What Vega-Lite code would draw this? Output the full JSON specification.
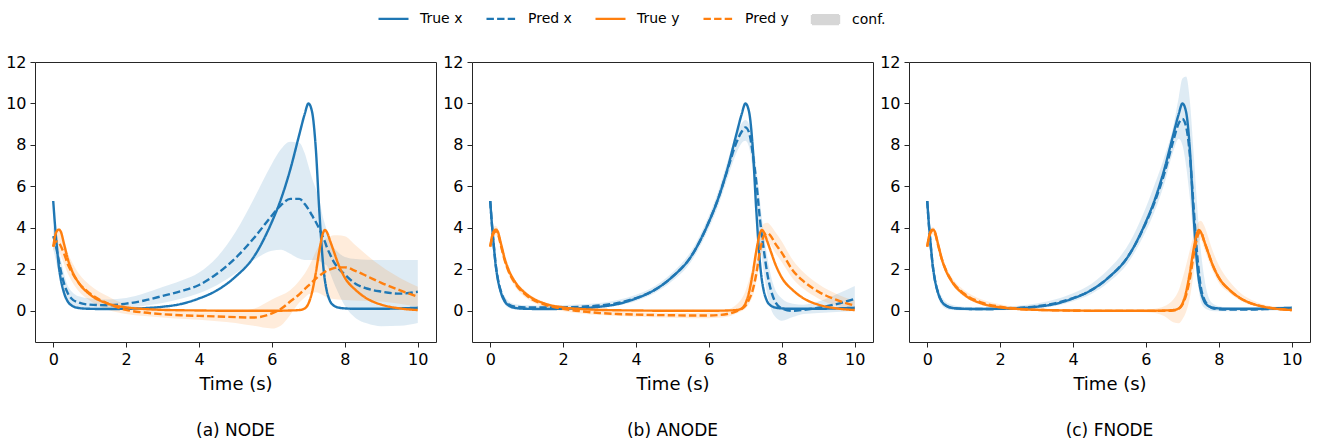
{
"$schema": "https://vega.github.io/schema/vega-lite/v6.json",
"padding": {"left": 5, "top": 2, "right": 5, "bottom": 5},
"config": {
 "font": "DejaVu Sans",
 "view": {"stroke": "#262626", "strokeWidth": 1},
 "axis": {"grid": false, "domain": false, "tickColor": "#262626", "tickSize": 5, "labelFontSize": 16, "labelColor": "#000", "labelPadding": 4, "titleFontSize": 18, "titleFontWeight": "normal", "titleColor": "#000", "titlePadding": 8},
 "title": {"fontSize": 17, "fontWeight": "normal", "color": "#000"}
},
"data": {"values": [
{"p":"a","t":0,"True x":5.3,"True y":3.1,"Pred x":3.6,"Pred y":3.1,"xl":3.0,"xh":4.1,"yl":2.9,"yh":3.4},
{"p":"a","t":0.05,"True x":4.1,"True y":3.6,"Pred x":3.3,"Pred y":3.3,"xl":2.6,"xh":3.8,"yl":3.0,"yh":3.7},
{"p":"a","t":0.1,"True x":3.1,"True y":3.85,"Pred x":2.9,"Pred y":3.35,"xl":2.2,"xh":3.4,"yl":3.0,"yh":3.85},
{"p":"a","t":0.15,"True x":2.2,"True y":3.92,"Pred x":2.45,"Pred y":3.3,"xl":1.8,"xh":3.0,"yl":2.9,"yh":3.85},
{"p":"a","t":0.2,"True x":1.6,"True y":3.85,"Pred x":2.0,"Pred y":3.15,"xl":1.4,"xh":2.55,"yl":2.7,"yh":3.8},
{"p":"a","t":0.3,"True x":0.85,"True y":3.2,"Pred x":1.3,"Pred y":2.75,"xl":0.8,"xh":1.75,"yl":2.25,"yh":3.35},
{"p":"a","t":0.4,"True x":0.45,"True y":2.5,"Pred x":0.85,"Pred y":2.25,"xl":0.45,"xh":1.2,"yl":1.8,"yh":2.8},
{"p":"a","t":0.5,"True x":0.27,"True y":2.0,"Pred x":0.6,"Pred y":1.9,"xl":0.3,"xh":0.95,"yl":1.45,"yh":2.4},
{"p":"a","t":0.7,"True x":0.14,"True y":1.35,"Pred x":0.4,"Pred y":1.35,"xl":0.17,"xh":0.7,"yl":0.95,"yh":1.8},
{"p":"a","t":1,"True x":0.1,"True y":0.8,"Pred x":0.3,"Pred y":0.85,"xl":0.1,"xh":0.6,"yl":0.5,"yh":1.25},
{"p":"a","t":1.5,"True x":0.09,"True y":0.35,"Pred x":0.27,"Pred y":0.35,"xl":0.08,"xh":0.55,"yl":0.05,"yh":0.7},
{"p":"a","t":2,"True x":0.1,"True y":0.17,"Pred x":0.35,"Pred y":0.05,"xl":0.13,"xh":0.62,"yl":-0.15,"yh":0.3},
{"p":"a","t":2.5,"True x":0.13,"True y":0.09,"Pred x":0.5,"Pred y":-0.08,"xl":0.25,"xh":0.85,"yl":-0.25,"yh":0.12},
{"p":"a","t":3,"True x":0.2,"True y":0.05,"Pred x":0.72,"Pred y":-0.16,"xl":0.38,"xh":1.15,"yl":-0.32,"yh":0.02},
{"p":"a","t":3.5,"True x":0.33,"True y":0.03,"Pred x":0.95,"Pred y":-0.21,"xl":0.58,"xh":1.45,"yl":-0.38,"yh":-0.04},
{"p":"a","t":4,"True x":0.6,"True y":0.02,"Pred x":1.25,"Pred y":-0.24,"xl":0.85,"xh":1.85,"yl":-0.43,"yh":-0.06},
{"p":"a","t":4.5,"True x":1.0,"True y":0.01,"Pred x":1.8,"Pred y":-0.27,"xl":1.25,"xh":2.6,"yl":-0.5,"yh":-0.06},
{"p":"a","t":5,"True x":1.65,"True y":0.01,"Pred x":2.55,"Pred y":-0.3,"xl":1.8,"xh":3.8,"yl":-0.58,"yh":-0.03},
{"p":"a","t":5.5,"True x":2.6,"True y":0.01,"Pred x":3.5,"Pred y":-0.32,"xl":2.45,"xh":5.4,"yl":-0.72,"yh":0.1},
{"p":"a","t":6,"True x":4.3,"True y":0.01,"Pred x":4.6,"Pred y":-0.12,"xl":2.9,"xh":7.1,"yl":-0.85,"yh":0.55},
{"p":"a","t":6.25,"True x":5.4,"True y":0.01,"Pred x":5.1,"Pred y":0.1,"xl":2.95,"xh":7.8,"yl":-0.7,"yh":0.75},
{"p":"a","t":6.5,"True x":6.8,"True y":0.02,"Pred x":5.4,"Pred y":0.45,"xl":2.75,"xh":8.15,"yl":-0.2,"yh":1.0},
{"p":"a","t":6.75,"True x":8.5,"True y":0.04,"Pred x":5.4,"Pred y":0.8,"xl":2.52,"xh":8.1,"yl":0.4,"yh":1.45},
{"p":"a","t":6.9,"True x":9.5,"True y":0.12,"Pred x":5.15,"Pred y":1.05,"xl":2.45,"xh":7.6,"yl":0.65,"yh":1.8},
{"p":"a","t":7,"True x":10.0,"True y":0.35,"Pred x":4.9,"Pred y":1.22,"xl":2.45,"xh":7.0,"yl":0.8,"yh":2.1},
{"p":"a","t":7.1,"True x":9.6,"True y":0.9,"Pred x":4.6,"Pred y":1.38,"xl":2.45,"xh":6.4,"yl":0.85,"yh":2.45},
{"p":"a","t":7.2,"True x":7.9,"True y":1.8,"Pred x":4.3,"Pred y":1.55,"xl":2.45,"xh":5.9,"yl":0.9,"yh":2.85},
{"p":"a","t":7.3,"True x":4.8,"True y":2.9,"Pred x":3.95,"Pred y":1.7,"xl":2.4,"xh":5.35,"yl":0.85,"yh":3.15},
{"p":"a","t":7.4,"True x":2.3,"True y":3.75,"Pred x":3.55,"Pred y":1.82,"xl":2.3,"xh":4.5,"yl":0.75,"yh":3.35},
{"p":"a","t":7.45,"True x":1.5,"True y":3.9,"Pred x":3.35,"Pred y":1.88,"xl":2.25,"xh":4.2,"yl":0.7,"yh":3.45},
{"p":"a","t":7.5,"True x":1.0,"True y":3.82,"Pred x":3.1,"Pred y":1.93,"xl":2.2,"xh":3.9,"yl":0.65,"yh":3.5},
{"p":"a","t":7.6,"True x":0.45,"True y":3.35,"Pred x":2.7,"Pred y":2.0,"xl":1.8,"xh":3.4,"yl":0.6,"yh":3.6},
{"p":"a","t":7.7,"True x":0.25,"True y":2.85,"Pred x":2.35,"Pred y":2.06,"xl":1.35,"xh":3.05,"yl":0.57,"yh":3.65},
{"p":"a","t":7.8,"True x":0.17,"True y":2.35,"Pred x":2.1,"Pred y":2.1,"xl":0.95,"xh":2.85,"yl":0.55,"yh":3.65},
{"p":"a","t":8,"True x":0.12,"True y":1.6,"Pred x":1.75,"Pred y":2.1,"xl":0.25,"xh":2.6,"yl":0.52,"yh":3.6},
{"p":"a","t":8.3,"True x":0.1,"True y":1.0,"Pred x":1.3,"Pred y":1.92,"xl":-0.35,"xh":2.5,"yl":0.5,"yh":3.15},
{"p":"a","t":8.6,"True x":0.1,"True y":0.6,"Pred x":1.08,"Pred y":1.68,"xl":-0.6,"xh":2.47,"yl":0.48,"yh":2.7},
{"p":"a","t":9,"True x":0.1,"True y":0.3,"Pred x":0.93,"Pred y":1.35,"xl":-0.74,"xh":2.45,"yl":0.45,"yh":2.15},
{"p":"a","t":9.5,"True x":0.12,"True y":0.12,"Pred x":0.83,"Pred y":1.0,"xl":-0.72,"xh":2.45,"yl":0.35,"yh":1.6},
{"p":"a","t":10,"True x":0.15,"True y":0.04,"Pred x":0.92,"Pred y":0.68,"xl":-0.58,"xh":2.45,"yl":0.2,"yh":1.16},
{"p":"b","t":0,"True x":5.3,"True y":3.1,"Pred x":5.3,"Pred y":3.1,"xl":5.1,"xh":5.4,"yl":3.0,"yh":3.3},
{"p":"b","t":0.05,"True x":4.1,"True y":3.6,"Pred x":4.1,"Pred y":3.5,"xl":3.9,"xh":4.3,"yl":3.35,"yh":3.8},
{"p":"b","t":0.1,"True x":3.1,"True y":3.85,"Pred x":3.1,"Pred y":3.75,"xl":2.9,"xh":3.3,"yl":3.6,"yh":4.05},
{"p":"b","t":0.15,"True x":2.2,"True y":3.92,"Pred x":2.25,"Pred y":3.82,"xl":2.05,"xh":2.45,"yl":3.65,"yh":4.1},
{"p":"b","t":0.2,"True x":1.6,"True y":3.85,"Pred x":1.65,"Pred y":3.75,"xl":1.45,"xh":1.85,"yl":3.58,"yh":4.02},
{"p":"b","t":0.3,"True x":0.85,"True y":3.2,"Pred x":0.9,"Pred y":3.1,"xl":0.7,"xh":1.1,"yl":2.9,"yh":3.35},
{"p":"b","t":0.4,"True x":0.45,"True y":2.5,"Pred x":0.5,"Pred y":2.42,"xl":0.32,"xh":0.68,"yl":2.25,"yh":2.65},
{"p":"b","t":0.5,"True x":0.27,"True y":2.0,"Pred x":0.32,"Pred y":1.92,"xl":0.15,"xh":0.48,"yl":1.75,"yh":2.12},
{"p":"b","t":0.7,"True x":0.14,"True y":1.35,"Pred x":0.2,"Pred y":1.28,"xl":0.07,"xh":0.32,"yl":1.12,"yh":1.45},
{"p":"b","t":1,"True x":0.1,"True y":0.8,"Pred x":0.17,"Pred y":0.74,"xl":0.06,"xh":0.27,"yl":0.6,"yh":0.9},
{"p":"b","t":1.5,"True x":0.09,"True y":0.35,"Pred x":0.16,"Pred y":0.3,"xl":0.06,"xh":0.26,"yl":0.18,"yh":0.43},
{"p":"b","t":2,"True x":0.1,"True y":0.17,"Pred x":0.17,"Pred y":0.1,"xl":0.07,"xh":0.28,"yl":-0.02,"yh":0.22},
{"p":"b","t":2.5,"True x":0.13,"True y":0.09,"Pred x":0.2,"Pred y":-0.02,"xl":0.1,"xh":0.32,"yl":-0.12,"yh":0.1},
{"p":"b","t":3,"True x":0.2,"True y":0.05,"Pred x":0.26,"Pred y":-0.1,"xl":0.15,"xh":0.38,"yl":-0.2,"yh":0.02},
{"p":"b","t":3.5,"True x":0.33,"True y":0.03,"Pred x":0.38,"Pred y":-0.15,"xl":0.26,"xh":0.52,"yl":-0.25,"yh":-0.04},
{"p":"b","t":4,"True x":0.6,"True y":0.02,"Pred x":0.62,"Pred y":-0.18,"xl":0.48,"xh":0.78,"yl":-0.28,"yh":-0.07},
{"p":"b","t":4.5,"True x":1.0,"True y":0.01,"Pred x":1.0,"Pred y":-0.2,"xl":0.85,"xh":1.18,"yl":-0.31,"yh":-0.09},
{"p":"b","t":5,"True x":1.65,"True y":0.01,"Pred x":1.65,"Pred y":-0.21,"xl":1.45,"xh":1.85,"yl":-0.33,"yh":-0.1},
{"p":"b","t":5.5,"True x":2.6,"True y":0.01,"Pred x":2.6,"Pred y":-0.22,"xl":2.35,"xh":2.85,"yl":-0.35,"yh":-0.1},
{"p":"b","t":6,"True x":4.3,"True y":0.01,"Pred x":4.3,"Pred y":-0.22,"xl":4.0,"xh":4.6,"yl":-0.35,"yh":-0.08},
{"p":"b","t":6.25,"True x":5.4,"True y":0.01,"Pred x":5.4,"Pred y":-0.2,"xl":5.05,"xh":5.75,"yl":-0.33,"yh":-0.05},
{"p":"b","t":6.5,"True x":6.8,"True y":0.02,"Pred x":6.75,"Pred y":-0.15,"xl":6.35,"xh":7.15,"yl":-0.28,"yh":0.05},
{"p":"b","t":6.75,"True x":8.5,"True y":0.04,"Pred x":8.1,"Pred y":-0.02,"xl":7.6,"xh":8.55,"yl":-0.12,"yh":0.3},
{"p":"b","t":6.9,"True x":9.5,"True y":0.12,"Pred x":8.65,"Pred y":0.1,"xl":8.1,"xh":9.05,"yl":0.0,"yh":0.6},
{"p":"b","t":7,"True x":10.0,"True y":0.35,"Pred x":8.85,"Pred y":0.25,"xl":8.2,"xh":9.2,"yl":0.12,"yh":0.95},
{"p":"b","t":7.1,"True x":9.6,"True y":0.9,"Pred x":8.6,"Pred y":0.55,"xl":7.9,"xh":9.0,"yl":0.35,"yh":1.5},
{"p":"b","t":7.2,"True x":7.9,"True y":1.8,"Pred x":7.6,"Pred y":1.0,"xl":6.8,"xh":8.3,"yl":0.7,"yh":2.1},
{"p":"b","t":7.3,"True x":4.8,"True y":2.9,"Pred x":6.2,"Pred y":1.8,"xl":5.2,"xh":6.9,"yl":1.4,"yh":2.9},
{"p":"b","t":7.4,"True x":2.3,"True y":3.75,"Pred x":4.4,"Pred y":2.9,"xl":3.4,"xh":5.3,"yl":2.4,"yh":3.7},
{"p":"b","t":7.45,"True x":1.5,"True y":3.9,"Pred x":3.65,"Pred y":3.3,"xl":2.6,"xh":4.5,"yl":2.85,"yh":4.0},
{"p":"b","t":7.5,"True x":1.0,"True y":3.82,"Pred x":3.0,"Pred y":3.6,"xl":1.9,"xh":3.8,"yl":3.2,"yh":4.2},
{"p":"b","t":7.6,"True x":0.45,"True y":3.35,"Pred x":1.8,"Pred y":3.75,"xl":0.8,"xh":2.6,"yl":3.35,"yh":4.25},
{"p":"b","t":7.7,"True x":0.25,"True y":2.85,"Pred x":1.0,"Pred y":3.6,"xl":0.1,"xh":1.7,"yl":3.15,"yh":4.1},
{"p":"b","t":7.8,"True x":0.17,"True y":2.35,"Pred x":0.5,"Pred y":3.3,"xl":-0.25,"xh":1.1,"yl":2.85,"yh":3.85},
{"p":"b","t":8,"True x":0.12,"True y":1.6,"Pred x":0.12,"Pred y":2.8,"xl":-0.48,"xh":0.6,"yl":2.35,"yh":3.35},
{"p":"b","t":8.3,"True x":0.1,"True y":1.0,"Pred x":0.0,"Pred y":1.95,"xl":-0.3,"xh":0.35,"yl":1.55,"yh":2.45},
{"p":"b","t":8.6,"True x":0.1,"True y":0.6,"Pred x":0.05,"Pred y":1.42,"xl":-0.15,"xh":0.3,"yl":1.05,"yh":1.85},
{"p":"b","t":9,"True x":0.1,"True y":0.3,"Pred x":0.15,"Pred y":0.93,"xl":-0.1,"xh":0.45,"yl":0.6,"yh":1.3},
{"p":"b","t":9.5,"True x":0.12,"True y":0.12,"Pred x":0.33,"Pred y":0.53,"xl":-0.05,"xh":0.8,"yl":0.25,"yh":0.82},
{"p":"b","t":10,"True x":0.15,"True y":0.04,"Pred x":0.58,"Pred y":0.25,"xl":0.0,"xh":1.2,"yl":0.05,"yh":0.5},
{"p":"c","t":0,"True x":5.3,"True y":3.1,"Pred x":5.3,"Pred y":3.1,"xl":5.1,"xh":5.4,"yl":3.0,"yh":3.3},
{"p":"c","t":0.05,"True x":4.1,"True y":3.6,"Pred x":4.05,"Pred y":3.55,"xl":3.85,"xh":4.25,"yl":3.4,"yh":3.75},
{"p":"c","t":0.1,"True x":3.1,"True y":3.85,"Pred x":3.05,"Pred y":3.8,"xl":2.85,"xh":3.3,"yl":3.65,"yh":3.98},
{"p":"c","t":0.15,"True x":2.2,"True y":3.92,"Pred x":2.2,"Pred y":3.87,"xl":2.0,"xh":2.45,"yl":3.7,"yh":4.05},
{"p":"c","t":0.2,"True x":1.6,"True y":3.85,"Pred x":1.6,"Pred y":3.8,"xl":1.4,"xh":1.85,"yl":3.62,"yh":3.98},
{"p":"c","t":0.3,"True x":0.85,"True y":3.2,"Pred x":0.85,"Pred y":3.15,"xl":0.65,"xh":1.1,"yl":2.98,"yh":3.35},
{"p":"c","t":0.4,"True x":0.45,"True y":2.5,"Pred x":0.45,"Pred y":2.5,"xl":0.27,"xh":0.68,"yl":2.33,"yh":2.7},
{"p":"c","t":0.5,"True x":0.27,"True y":2.0,"Pred x":0.27,"Pred y":2.02,"xl":0.12,"xh":0.45,"yl":1.85,"yh":2.2},
{"p":"c","t":0.7,"True x":0.14,"True y":1.35,"Pred x":0.14,"Pred y":1.38,"xl":0.04,"xh":0.28,"yl":1.22,"yh":1.55},
{"p":"c","t":1,"True x":0.1,"True y":0.8,"Pred x":0.1,"Pred y":0.85,"xl":0.02,"xh":0.2,"yl":0.7,"yh":1.02},
{"p":"c","t":1.5,"True x":0.09,"True y":0.35,"Pred x":0.09,"Pred y":0.4,"xl":0.02,"xh":0.18,"yl":0.28,"yh":0.55},
{"p":"c","t":2,"True x":0.1,"True y":0.17,"Pred x":0.1,"Pred y":0.2,"xl":0.03,"xh":0.2,"yl":0.1,"yh":0.32},
{"p":"c","t":2.5,"True x":0.13,"True y":0.09,"Pred x":0.14,"Pred y":0.1,"xl":0.06,"xh":0.25,"yl":0.03,"yh":0.18},
{"p":"c","t":3,"True x":0.2,"True y":0.05,"Pred x":0.22,"Pred y":0.05,"xl":0.12,"xh":0.36,"yl":-0.01,"yh":0.11},
{"p":"c","t":3.5,"True x":0.33,"True y":0.03,"Pred x":0.36,"Pred y":0.03,"xl":0.24,"xh":0.55,"yl":-0.02,"yh":0.08},
{"p":"c","t":4,"True x":0.6,"True y":0.02,"Pred x":0.62,"Pred y":0.01,"xl":0.47,"xh":0.85,"yl":-0.03,"yh":0.05},
{"p":"c","t":4.5,"True x":1.0,"True y":0.01,"Pred x":1.0,"Pred y":0.0,"xl":0.82,"xh":1.3,"yl":-0.03,"yh":0.04},
{"p":"c","t":5,"True x":1.65,"True y":0.01,"Pred x":1.65,"Pred y":0.0,"xl":1.42,"xh":2.05,"yl":-0.03,"yh":0.04},
{"p":"c","t":5.5,"True x":2.6,"True y":0.01,"Pred x":2.6,"Pred y":0.0,"xl":2.3,"xh":3.15,"yl":-0.04,"yh":0.04},
{"p":"c","t":6,"True x":4.3,"True y":0.01,"Pred x":4.25,"Pred y":0.0,"xl":3.85,"xh":5.0,"yl":-0.06,"yh":0.06},
{"p":"c","t":6.25,"True x":5.4,"True y":0.01,"Pred x":5.3,"Pred y":0.0,"xl":4.85,"xh":6.15,"yl":-0.1,"yh":0.1},
{"p":"c","t":6.5,"True x":6.8,"True y":0.02,"Pred x":6.6,"Pred y":0.0,"xl":6.1,"xh":7.4,"yl":-0.25,"yh":0.22},
{"p":"c","t":6.75,"True x":8.5,"True y":0.04,"Pred x":8.2,"Pred y":0.02,"xl":7.7,"xh":8.9,"yl":-0.55,"yh":0.55},
{"p":"c","t":6.9,"True x":9.5,"True y":0.12,"Pred x":9.05,"Pred y":0.1,"xl":8.3,"xh":10.3,"yl":-0.6,"yh":1.0},
{"p":"c","t":7,"True x":10.0,"True y":0.35,"Pred x":9.25,"Pred y":0.3,"xl":8.0,"xh":11.2,"yl":-0.4,"yh":1.55},
{"p":"c","t":7.1,"True x":9.6,"True y":0.9,"Pred x":8.9,"Pred y":0.75,"xl":7.0,"xh":11.3,"yl":-0.05,"yh":2.2},
{"p":"c","t":7.2,"True x":7.9,"True y":1.8,"Pred x":7.6,"Pred y":1.5,"xl":5.5,"xh":10.2,"yl":0.6,"yh":2.9},
{"p":"c","t":7.3,"True x":4.8,"True y":2.9,"Pred x":5.2,"Pred y":2.6,"xl":3.6,"xh":7.8,"yl":1.7,"yh":3.6},
{"p":"c","t":7.4,"True x":2.3,"True y":3.75,"Pred x":2.8,"Pred y":3.5,"xl":1.6,"xh":5.2,"yl":2.9,"yh":4.15},
{"p":"c","t":7.45,"True x":1.5,"True y":3.9,"Pred x":1.9,"Pred y":3.75,"xl":1.0,"xh":4.0,"yl":3.3,"yh":4.3},
{"p":"c","t":7.5,"True x":1.0,"True y":3.82,"Pred x":1.2,"Pred y":3.82,"xl":0.5,"xh":3.0,"yl":3.45,"yh":4.35},
{"p":"c","t":7.6,"True x":0.45,"True y":3.35,"Pred x":0.55,"Pred y":3.35,"xl":0.15,"xh":1.6,"yl":3.0,"yh":4.1},
{"p":"c","t":7.7,"True x":0.25,"True y":2.85,"Pred x":0.28,"Pred y":2.85,"xl":0.05,"xh":0.75,"yl":2.5,"yh":3.6},
{"p":"c","t":7.8,"True x":0.17,"True y":2.35,"Pred x":0.15,"Pred y":2.35,"xl":0.0,"xh":0.4,"yl":2.05,"yh":3.05},
{"p":"c","t":8,"True x":0.12,"True y":1.6,"Pred x":0.08,"Pred y":1.6,"xl":-0.02,"xh":0.22,"yl":1.35,"yh":2.2},
{"p":"c","t":8.3,"True x":0.1,"True y":1.0,"Pred x":0.06,"Pred y":1.0,"xl":-0.02,"xh":0.16,"yl":0.85,"yh":1.4},
{"p":"c","t":8.6,"True x":0.1,"True y":0.6,"Pred x":0.06,"Pred y":0.6,"xl":-0.01,"xh":0.15,"yl":0.48,"yh":0.85},
{"p":"c","t":9,"True x":0.1,"True y":0.3,"Pred x":0.07,"Pred y":0.3,"xl":0.0,"xh":0.16,"yl":0.22,"yh":0.45},
{"p":"c","t":9.5,"True x":0.12,"True y":0.12,"Pred x":0.1,"Pred y":0.12,"xl":0.02,"xh":0.2,"yl":0.07,"yh":0.2},
{"p":"c","t":10,"True x":0.15,"True y":0.04,"Pred x":0.12,"Pred y":0.04,"xl":0.04,"xh":0.23,"yl":0.0,"yh":0.1}
]},
"spacing": 5,
"resolve": {"scale": {"color": "shared", "strokeDash": "shared"}},
"hconcat": [
 {"width": 401, "height": 280,
  "title": {"text": "(a) NODE", "orient": "bottom", "offset": 30},
  "transform": [{"filter": "datum.p === 'a'"}],
  "encoding": {"x": {"field": "t", "type": "quantitative", "scale": {"domain": [-0.5, 10.5], "nice": false, "zero": false}, "axis": {"values": [0,2,4,6,8,10], "title": "Time (s)"}}},
  "layer": [
   {"mark": {"type": "area", "color": "#1f77b4", "opacity": 0.15, "interpolate": "monotone"}, "encoding": {"y": {"field": "xl", "type": "quantitative", "scale": {"domain": [-1.5, 12], "nice": false, "zero": false}, "axis": {"values": [0,2,4,6,8,10,12], "title": null}}, "y2": {"field": "xh"}}},
   {"mark": {"type": "area", "color": "#ff7f0e", "opacity": 0.15, "interpolate": "monotone"}, "encoding": {"y": {"field": "yl", "type": "quantitative", "scale": {"domain": [-1.5, 12], "nice": false, "zero": false}, "axis": {"values": [0,2,4,6,8,10,12], "title": null}}, "y2": {"field": "yh"}}},
   {"transform": [{"fold": ["True x", "Pred x", "True y", "Pred y"], "as": ["series", "value"]}],
    "mark": {"type": "line", "strokeWidth": 2.4, "interpolate": "monotone"},
    "encoding": {
     "y": {"field": "value", "type": "quantitative", "scale": {"domain": [-1.5, 12], "nice": false, "zero": false}, "axis": {"values": [0,2,4,6,8,10,12], "title": null}},
     "color": {"field": "series", "type": "nominal", "scale": {"domain": ["True x", "Pred x", "True y", "Pred y", "conf."], "range": ["#1f77b4", "#1f77b4", "#ff7f0e", "#ff7f0e", "#d6d6d6"]},
      "legend": {"orient": "none", "legendX": 342, "legendY": -60, "direction": "horizontal", "title": null, "symbolType": "stroke", "symbolSize": 900, "symbolStrokeWidth": 2.4, "labelFontSize": 14, "labelColor": "#000", "labelOffset": 10, "columnPadding": 18, "encode": {"symbols": {"update": {"shape": {"signal": "datum.value === 'conf.' ? 'M-0.9,-0.3H0.9V0.3H-0.9Z' : 'M-1,-0.4M-1,0H1M1,0.4'"}, "fill": {"signal": "datum.value === 'conf.' ? '#d6d6d6' : 'transparent'"}}}}}},
     "strokeDash": {"field": "series", "type": "nominal", "scale": {"domain": ["True x", "Pred x", "True y", "Pred y", "conf."], "range": [[1,0], [7.4,3.2], [1,0], [7.4,3.2], [1,0]]},
      "legend": {"orient": "none", "legendX": 342, "legendY": -60, "direction": "horizontal", "title": null, "symbolType": "stroke", "symbolSize": 900, "symbolStrokeWidth": 2.4, "labelFontSize": 14, "labelColor": "#000", "labelOffset": 10, "columnPadding": 18, "encode": {"symbols": {"update": {"shape": {"signal": "datum.value === 'conf.' ? 'M-0.9,-0.3H0.9V0.3H-0.9Z' : 'M-1,-0.4M-1,0H1M1,0.4'"}, "fill": {"signal": "datum.value === 'conf.' ? '#d6d6d6' : 'transparent'"}}}}}}
    }}
  ]},
 {"width": 401, "height": 280,
  "title": {"text": "(b) ANODE", "orient": "bottom", "offset": 30},
  "transform": [{"filter": "datum.p === 'b'"}],
  "encoding": {"x": {"field": "t", "type": "quantitative", "scale": {"domain": [-0.5, 10.5], "nice": false, "zero": false}, "axis": {"values": [0,2,4,6,8,10], "title": "Time (s)"}}},
  "layer": [
   {"mark": {"type": "area", "color": "#1f77b4", "opacity": 0.15, "interpolate": "monotone"}, "encoding": {"y": {"field": "xl", "type": "quantitative", "scale": {"domain": [-1.5, 12], "nice": false, "zero": false}, "axis": {"values": [0,2,4,6,8,10,12], "title": null}}, "y2": {"field": "xh"}}},
   {"mark": {"type": "area", "color": "#ff7f0e", "opacity": 0.15, "interpolate": "monotone"}, "encoding": {"y": {"field": "yl", "type": "quantitative", "scale": {"domain": [-1.5, 12], "nice": false, "zero": false}, "axis": {"values": [0,2,4,6,8,10,12], "title": null}}, "y2": {"field": "yh"}}},
   {"transform": [{"fold": ["True x", "Pred x", "True y", "Pred y"], "as": ["series", "value"]}],
    "mark": {"type": "line", "strokeWidth": 2.4, "interpolate": "monotone"},
    "encoding": {
     "y": {"field": "value", "type": "quantitative", "scale": {"domain": [-1.5, 12], "nice": false, "zero": false}, "axis": {"values": [0,2,4,6,8,10,12], "title": null}},
     "color": {"field": "series", "type": "nominal", "scale": {"domain": ["True x", "Pred x", "True y", "Pred y", "conf."], "range": ["#1f77b4", "#1f77b4", "#ff7f0e", "#ff7f0e", "#d6d6d6"]}},
     "strokeDash": {"field": "series", "type": "nominal", "scale": {"domain": ["True x", "Pred x", "True y", "Pred y", "conf."], "range": [[1,0], [7.4,3.2], [1,0], [7.4,3.2], [1,0]]}}
    }}
  ]},
 {"width": 401, "height": 280,
  "title": {"text": "(c) FNODE", "orient": "bottom", "offset": 30},
  "transform": [{"filter": "datum.p === 'c'"}],
  "encoding": {"x": {"field": "t", "type": "quantitative", "scale": {"domain": [-0.5, 10.5], "nice": false, "zero": false}, "axis": {"values": [0,2,4,6,8,10], "title": "Time (s)"}}},
  "layer": [
   {"mark": {"type": "area", "color": "#1f77b4", "opacity": 0.15, "interpolate": "monotone"}, "encoding": {"y": {"field": "xl", "type": "quantitative", "scale": {"domain": [-1.5, 12], "nice": false, "zero": false}, "axis": {"values": [0,2,4,6,8,10,12], "title": null}}, "y2": {"field": "xh"}}},
   {"mark": {"type": "area", "color": "#ff7f0e", "opacity": 0.15, "interpolate": "monotone"}, "encoding": {"y": {"field": "yl", "type": "quantitative", "scale": {"domain": [-1.5, 12], "nice": false, "zero": false}, "axis": {"values": [0,2,4,6,8,10,12], "title": null}}, "y2": {"field": "yh"}}},
   {"transform": [{"fold": ["True x", "Pred x", "True y", "Pred y"], "as": ["series", "value"]}],
    "mark": {"type": "line", "strokeWidth": 2.4, "interpolate": "monotone"},
    "encoding": {
     "y": {"field": "value", "type": "quantitative", "scale": {"domain": [-1.5, 12], "nice": false, "zero": false}, "axis": {"values": [0,2,4,6,8,10,12], "title": null}},
     "color": {"field": "series", "type": "nominal", "scale": {"domain": ["True x", "Pred x", "True y", "Pred y", "conf."], "range": ["#1f77b4", "#1f77b4", "#ff7f0e", "#ff7f0e", "#d6d6d6"]}},
     "strokeDash": {"field": "series", "type": "nominal", "scale": {"domain": ["True x", "Pred x", "True y", "Pred y", "conf."], "range": [[1,0], [7.4,3.2], [1,0], [7.4,3.2], [1,0]]}}
    }}
  ]}
]
}
